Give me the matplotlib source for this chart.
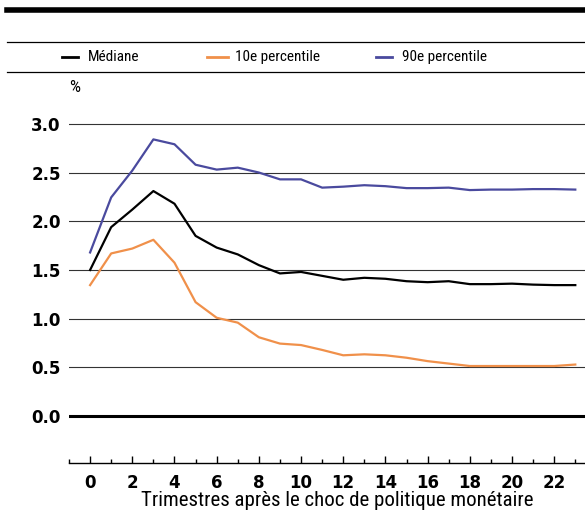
import numpy as np
import matplotlib
matplotlib.use("Agg")
import matplotlib.pyplot as plt
from matplotlib.lines import Line2D
from matplotlib.ticker import MultipleLocator
from matplotlib import font_manager

quarters = list(range(24))
mediane = [1.50, 1.94, 2.12, 2.31, 2.18, 1.85, 1.73, 1.66, 1.55, 1.465, 1.48, 1.44,
           1.40, 1.42, 1.41, 1.385, 1.375, 1.385, 1.355, 1.355, 1.36, 1.35, 1.345, 1.345]
p10 = [1.345, 1.67, 1.72, 1.81, 1.575, 1.17, 1.01, 0.96, 0.81, 0.745, 0.73, 0.68,
       0.625, 0.635, 0.625, 0.60, 0.565, 0.54, 0.515, 0.515, 0.515, 0.515, 0.515, 0.53]
p90 = [1.68, 2.245, 2.52, 2.84, 2.79, 2.58, 2.53, 2.55, 2.50, 2.43, 2.43, 2.345,
       2.355, 2.37, 2.36, 2.34, 2.34, 2.345, 2.32, 2.325, 2.325, 2.33, 2.33, 2.325]
yticks = [0.0, 0.5, 1.0, 1.5, 2.0, 2.5, 3.0]
labels = ["Médiane", "10e percentile", "90e percentile"]

black = "#000000"
orange = "#f0904a"
blue = "#4a4a9e"

names = {f.name for f in font_manager.fontManager.ttflist}
cond = [n for n in ["Liberation Sans Narrow", "DejaVu Sans Condensed", "Roboto Condensed",
                    "Open Sans Condensed"] if n in names]
plt.rcParams['font.family'] = cond + ['DejaVu Sans']
plt.rcParams['font.stretch'] = 'condensed'
tick_font = dict(family=['DejaVu Sans'], stretch='normal', weight='bold', size=12)

fig = plt.figure(figsize=(5.85, 5.11), dpi=100)
W, H = 585, 511
ax = fig.add_axes([69 / W, 1 - 463 / H, 1 - 69 / W, (463 - 104.3) / H])

ax.plot(quarters, mediane, color=black, lw=1.6, zorder=3)
ax.plot(quarters, p10, color=orange, lw=1.6, zorder=3)
ax.plot(quarters, p90, color=blue, lw=1.6, zorder=3)

ax.set_xlim(-1.0, 23.46)
ax.set_ylim(-0.48, 3.2)

for y in yticks:
    ax.axhline(y, color="black" if y == 0 else "#333333", lw=2.2 if y == 0 else 0.8, zorder=1)

ax.set_yticks(yticks)
ax.set_yticklabels([f"{v:.1f}" for v in yticks], **tick_font)
ax.tick_params(axis="y", length=0, pad=6)

ax.xaxis.set_major_locator(MultipleLocator(2))
ax.xaxis.set_minor_locator(MultipleLocator(1))
ax.tick_params(axis="x", which="major", direction="in", length=5, width=1, pad=8)
ax.tick_params(axis="x", which="minor", direction="in", length=3, width=1)
xt = list(range(0, 24, 2))
ax.set_xticks(xt)
ax.set_xticklabels([str(v) for v in xt], **tick_font)
ax.set_xlabel("Trimestres après le choc de politique monétaire", fontsize=15, labelpad=0)
ax.xaxis.set_label_coords(0.52, -0.077)

for s in ["top", "right", "left"]:
    ax.spines[s].set_visible(False)
ax.spines["bottom"].set_linewidth(1)

# header rules
fig.add_artist(Line2D([7 / W, 1], [1 - 10.5 / H] * 2, color="black", lw=4))
fig.add_artist(Line2D([7 / W, 1], [1 - 42 / H] * 2, color="black", lw=0.9))
fig.add_artist(Line2D([7 / W, 1], [1 - 72 / H] * 2, color="black", lw=0.9))

# legend
ly = 1 - 57 / H
for (x0, x1, xt0), lab, c in zip([(62, 78, 88), (207, 228, 235), (376, 392, 402)], labels,
                                 [black, orange, blue]):
    fig.add_artist(Line2D([x0 / W, x1 / W], [ly, ly], color=c, lw=2))
    fig.text(xt0 / W, ly, lab, fontsize=11, va="center", ha="left")

fig.text(69 / W, 1 - 88 / H, "%", fontsize=12.5, va="center", ha="left")

fig.savefig("out.png", dpi=100)
